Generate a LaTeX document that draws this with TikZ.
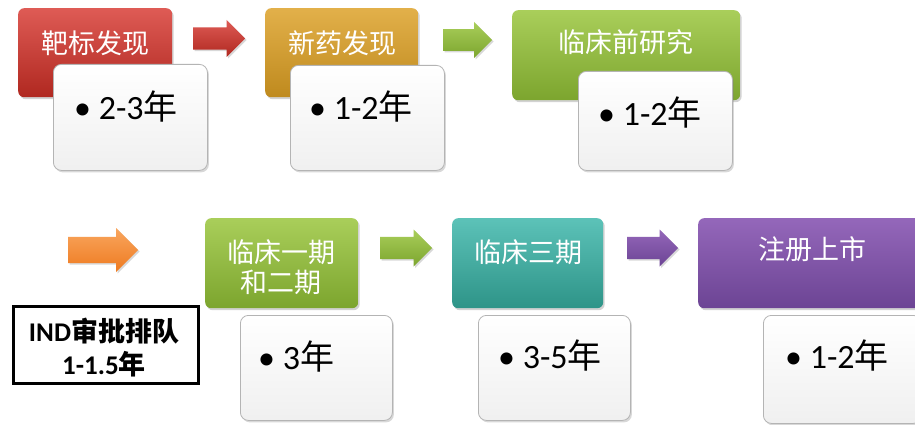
\documentclass[tikz,border=0pt]{standalone}
\usepackage{fontspec}
\setmainfont{Carlito}
\newfontfamily\cjk{Noto Sans CJK SC}
\usetikzlibrary{shadows}
\definecolor{cRedT}{HTML}{DE5B55}\definecolor{cRedB}{HTML}{B02820}
\definecolor{cGoldT}{HTML}{E2B04A}\definecolor{cGoldB}{HTML}{BF8A1E}
\definecolor{cGreenT}{HTML}{A9CE5A}\definecolor{cGreenB}{HTML}{7CA52E}
\definecolor{cTealT}{HTML}{5CC2B8}\definecolor{cTealB}{HTML}{2E9488}
\definecolor{cPurpT}{HTML}{9467BA}\definecolor{cPurpB}{HTML}{6C4494}
\definecolor{cOrngT}{HTML}{F9A65E}\definecolor{cOrngB}{HTML}{EE7A20}
\definecolor{cWBorder}{HTML}{B4B4B4}
\newcommand\blkarrow[5]{%
  \pgfmathsetmacro\myArSh{0.6*#4}%
  \pgfmathsetmacro\myArHx{#2-#4}%
  \path[top color=#5T, bottom color=#5B, drop shadow={opacity=0.3,shadow xshift=1.5pt,shadow yshift=-1.5pt}]
    (#1,#3-\myArSh) -- (\myArHx,#3-\myArSh) -- (\myArHx,#3-#4) -- (#2,#3)
    -- (\myArHx,#3+#4) -- (\myArHx,#3+\myArSh) -- (#1,#3+\myArSh) -- cycle;}
\begin{document}
\begin{tikzpicture}[x=1pt,y=-1pt,
  hdrbox/.style={rectangle, rounded corners=6pt, anchor=north west, inner sep=0pt,
    top color=#1T, bottom color=#1B,
    drop shadow={opacity=0.35,shadow xshift=1.5pt,shadow yshift=-2pt}},
  hdrtext/.style={font=\cjk\fontsize{27}{30}\selectfont, text=white, align=center, inner sep=0pt},
  wbox/.style={rectangle, rounded corners=8pt, anchor=north west, inner sep=0pt,
    draw=cWBorder, line width=0.8pt, top color=white, bottom color=black!6,
    drop shadow={opacity=0.3,shadow xshift=1.5pt,shadow yshift=-2pt}},
  btext/.style={font=\fontsize{34}{38}\selectfont, anchor=base west, inner sep=0pt}]
\useasboundingbox (0,0) rectangle (915,425);
\fill[white] (0,0) rectangle (915,425);

% top row
\node[hdrbox=cRed, minimum width=154pt, minimum height=89pt] (t1) at (18,8) {};
\node[hdrtext] (t1t) at (95,43) {靶标发现};
\node[wbox, minimum width=154pt, minimum height=106pt] (w1) at (53,64) {};
\node[btext] (w1t) at (74,120) {• 2-3{\cjk 年}};

\blkarrow{193}{245}{38.5}{18.5}{cRed}

\node[hdrbox=cGold, minimum width=153pt, minimum height=89pt] (t2) at (265,8) {};
\node[hdrtext] (t2t) at (342,43) {新药发现};
\node[wbox, minimum width=154pt, minimum height=105pt] (w2) at (290,65) {};
\node[btext] (w2t) at (309,120) {• 1-2{\cjk 年}};

\blkarrow{443}{492}{40}{18}{cGreen}

\node[hdrbox=cGreen, minimum width=228pt, minimum height=90pt] (t3) at (512,10) {};
\node[hdrtext] (t3t) at (626,42) {临床前研究};
\node[wbox, minimum width=154pt, minimum height=99pt] (w3) at (578,71) {};
\node[btext] (w3t) at (598,126) {• 1-2{\cjk 年}};

% bottom row
\blkarrow{68}{138}{250}{22}{cOrng}

\node[draw=black, line width=2.5pt, minimum width=185pt, minimum height=77pt,
  anchor=north west, inner sep=0pt] (ind) at (12,305) {};
\node[font=\bfseries\fontsize{27}{33}\selectfont, align=center, inner sep=0pt] (indt) at (104,348)
  {IND{\cjk\bfseries 审批排队}\\1-1.5{\cjk\bfseries 年}};

\node[hdrbox=cGreen, minimum width=153pt, minimum height=90pt] (b1) at (205,218) {};
\node[hdrtext] (b1t) at (281,267) {临床一期\\和二期};
\node[wbox, minimum width=152pt, minimum height=105pt] (w4) at (240,315) {};
\node[btext] (w4t) at (258,369) {• 3{\cjk 年}};

\blkarrow{380}{432}{248}{18.5}{cGreen}

\node[hdrbox=cTeal, minimum width=151pt, minimum height=90pt] (b2) at (452,218) {};
\node[hdrtext] (b2t) at (528,252) {临床三期};
\node[wbox, minimum width=152pt, minimum height=105pt] (w5) at (478,315) {};
\node[btext] (w5t) at (498,368) {• 3-5{\cjk 年}};

\blkarrow{627}{678}{248}{18.5}{cPurp}

\node[hdrbox=cPurp, minimum width=228pt, minimum height=90pt] (b3) at (698,218) {};
\node[hdrtext] (b3t) at (812,249) {注册上市};
\node[wbox, minimum width=158pt, minimum height=108pt] (w6) at (763,315) {};
\node[btext] (w6t) at (785,368) {• 1-2{\cjk 年}};
\end{tikzpicture}
\end{document}
